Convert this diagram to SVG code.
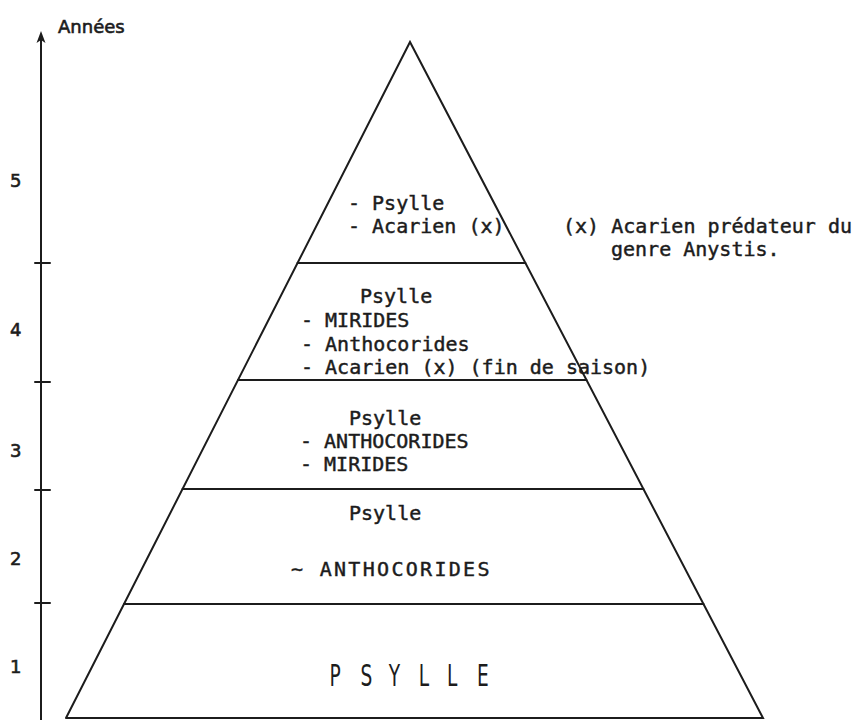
<svg xmlns="http://www.w3.org/2000/svg" width="862" height="720" viewBox="0 0 862 720">
<style>
.ln{stroke:#1c1c1c;stroke-width:2;fill:none;stroke-linecap:round}
.t{font-family:"DejaVu Sans Mono","Liberation Mono",monospace;font-size:20px;fill:#1c1c1c;stroke:#1c1c1c;stroke-width:0.45px}
.ax{font-family:"DejaVu Sans","Liberation Sans",sans-serif;font-size:18px;fill:#1c1c1c;stroke:#1c1c1c;stroke-width:0.6px}
</style>
<rect width="862" height="720" fill="#ffffff"/>
<g id="axis">
<line class="ln" x1="41" y1="36" x2="41" y2="720"/>
<polygon points="41,31 36.5,43 41,40 45.5,43" fill="#1c1c1c"/>
<line class="ln" x1="35" y1="263" x2="50" y2="263"/>
<line class="ln" x1="35" y1="382" x2="50" y2="382"/>
<line class="ln" x1="35" y1="490" x2="50" y2="490"/>
<line class="ln" x1="35" y1="603" x2="50" y2="603"/>
<text class="ax" x="58" y="33" font-size="19">Années</text>
<text class="ax" x="10" y="187">5</text>
<text class="ax" x="10" y="336">4</text>
<text class="ax" x="10" y="457">3</text>
<text class="ax" x="10" y="565">2</text>
<text class="ax" x="10" y="673">1</text>
</g>
<g id="pyramid">
<polyline class="ln" points="66,718 410,42 763,718 66,718"/>
</g>
<g id="year5">
<text class="t" x="348" y="210">- Psylle</text>
<text class="t" x="348" y="233">- Acarien (x)</text>
</g>
<g id="note">
<text class="t" x="563" y="233">(x) Acarien prédateur du</text>
<text class="t" x="611" y="256">genre Anystis.</text>
</g>
<g id="year4">
<line class="ln" x1="297.5" y1="263" x2="525.4" y2="263"/>
<text class="t" x="360" y="303">Psylle</text>
<text class="t" x="301" y="327">- MIRIDES</text>
<text class="t" x="301" y="351">- Anthocorides</text>
<text class="t" x="301" y="374">- Acarien (x) (fin de saison)</text>
</g>
<g id="year3">
<line class="ln" x1="238" y1="380" x2="586.5" y2="380"/>
<text class="t" x="349" y="425">Psylle</text>
<text class="t" x="300" y="448">- ANTHOCORIDES</text>
<text class="t" x="300" y="471">- MIRIDES</text>
</g>
<g id="year2">
<line class="ln" x1="182.5" y1="489" x2="643.4" y2="489"/>
<text class="t" x="349" y="520">Psylle</text>
<text class="t" x="291" y="576" letter-spacing="2.3">~ ANTHOCORIDES</text>
</g>
<g id="year1">
<line class="ln" x1="124" y1="604" x2="703.5" y2="604"/>
<text font-family="DejaVu Sans, Liberation Sans, sans-serif" font-size="31" fill="#1c1c1c" transform="translate(0,686) scale(0.6,1)" x="549 601 648 698 745 795" y="0">PSYLLE</text>
</g>
</svg>
